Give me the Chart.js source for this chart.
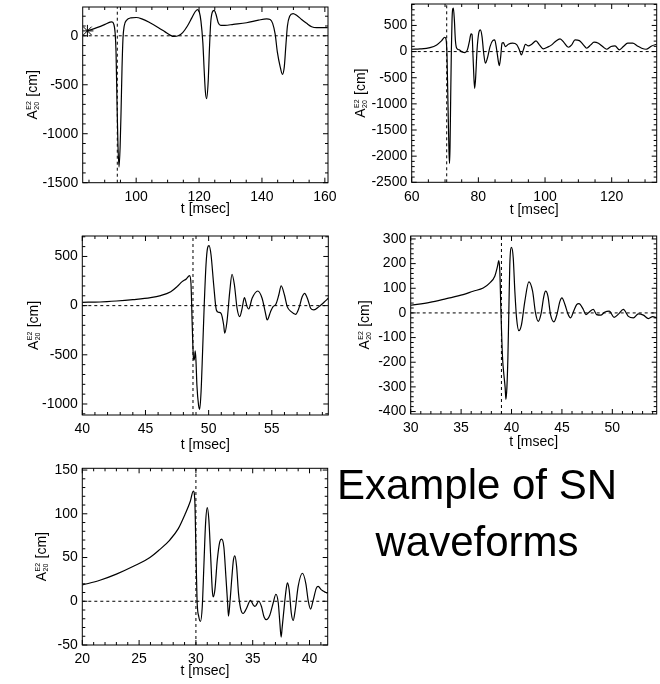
<!DOCTYPE html>
<html>
<head>
<meta charset="utf-8">
<script src="https://cdn.jsdelivr.net/npm/chart.js@4.4.1/dist/chart.umd.min.js"></script>
<style>
  body { margin: 0; background: #fff; }
  #wrap { position: relative; width: 660px; height: 684px; overflow: hidden; }
  canvas { position: absolute; }
  .big { position: absolute; font: 42px "Liberation Sans", Arial, sans-serif; line-height: 42px; color: #000; text-align: center; white-space: nowrap; }
</style>
</head>
<body>
<div id="wrap">
  <canvas id="c1" width="345" height="225" style="left:0;top:0"></canvas>
  <canvas id="c2" width="330" height="225" style="left:330px;top:0"></canvas>
  <canvas id="c3" width="345" height="230" style="left:0;top:225px"></canvas>
  <canvas id="c4" width="330" height="230" style="left:330px;top:225px"></canvas>
  <canvas id="c5" width="345" height="229" style="left:0;top:455px"></canvas>
  <div class="big" style="left:330px;width:294px;top:464px">Example of SN</div>
  <div class="big" style="left:330px;width:294px;top:521px">waveforms</div>
</div>
<script>
// waveform 1 (t in msec, A in cm)
const t1 = [84.5, 87.5, 90.1, 91.7, 92.3, 92.9, 93.3, 93.6, 93.9, 94.2, 94.55, 94.9, 95.2, 95.5, 95.8, 96.2, 97.0, 98.3, 100.0,
  101.8, 104.4, 107.1, 109.2, 110.8, 112.0, 113.4, 114.8, 116.3, 117.7, 118.7, 119.5, 120.1, 120.6, 121.2, 121.6, 122.0,
  122.4, 122.9, 123.3, 123.7, 124.2, 124.8, 125.4, 126.1, 126.9, 128.2, 130.9, 135.1, 138.9, 141.5, 142.6, 143.4, 144.2,
  144.9, 145.8, 146.5, 147.1, 147.6, 148.1, 148.8, 149.9, 151.1, 152.6, 154.2, 155.8, 157.4, 160.9];
const a1 = [50, 83, 117, 140, 143, 117, 33, -167, -667, -1100, -1340, -1133, -767, -333, -33, 100, 160, 183, 187,
  173, 133, 83, 40, 7, -7, 0, 33, 100, 183, 243, 267, 240, 150, -67, -333, -567,
  -643, -467, -133, 133, 240, 260, 217, 133, 107, 107, 117, 133, 160, 173, 167, 127, 17,
  -167, -317, -393, -317, -100, 100, 200, 227, 207, 167, 127, 93, 83, 83];

// waveform 2
const t2 = [60, 62.5, 65.5, 67.5, 69, 69.9, 70.3, 70.6, 70.9, 71.2, 71.35, 71.5, 71.7, 71.9, 72.1, 72.3, 72.5, 72.8, 73.1,
  73.5, 74.3, 75.1, 76, 76.7, 77.3, 77.8, 78.1, 78.4, 78.7, 78.9, 79.2, 79.6, 80.1, 80.6, 81.1, 81.6, 82.1, 82.7, 83.5,
  84.3, 84.9, 85.5, 86.0, 86.3, 86.7, 87.1, 87.5, 88.1, 89, 90.3, 91.5, 92.3, 92.9, 93.5, 94.1, 95, 96, 97.3, 98.3, 99.5,
  100.7, 102, 103.3, 104.5, 105.7, 107, 108, 109, 110.3, 111.5, 112.5, 113.7, 114.7, 116, 117.3, 118.5, 119.8, 121,
  122.3, 123.5, 124.8, 126.3, 127.7, 129, 130.3, 132, 133.5];
const a2 = [45, 51, 77, 128, 210, 274, 236, -96, -1053, -1946, -2137, -1818, -861, 32, 606, 810, 830, 606, 223,
  64, 32, -6, -19, 32, 191, 338, 325, -96, -542, -702, -479, 32, 351, 415, 287, -32, -223, -128, 96,
  210, 223, 32, -191, -268, -96, 160, 172, 96, 140, 160, 134, 32, -64, 32, 140, 108, 140, 204, 128, 51,
  83, 128, 204, 242, 172, 83, 128, 223, 210, 128, 64, 128, 179, 160, 96, 45, 96, 108,
  32, 96, 160, 160, 108, 64, 45, 108, 140];

// waveform 3
const t3 = [40, 41.4, 42.7, 44.0, 45.4, 46.2, 47.0, 47.5, 47.9, 48.23, 48.49, 48.6, 48.7, 48.8, 48.86, 48.94, 49.0, 49.07,
  49.2, 49.29, 49.4, 49.52, 49.65, 49.79, 49.92, 50.03, 50.19, 50.4, 50.61, 50.79, 50.98, 51.19, 51.27, 51.45, 51.67,
  51.85, 52.04, 52.25, 52.46, 52.65, 52.83, 53.04, 53.17, 53.44, 53.89, 54.23, 54.5, 54.63, 54.9, 55.1, 55.32, 55.55,
  55.74, 56.0, 56.22, 56.53, 56.88, 57.14, 57.41, 57.59, 57.86, 58.07, 58.33, 58.73, 59.13, 59.47];
const a3 = [34, 37, 47, 61, 81, 102, 142, 193, 244, 271, 305, 227, -197, -536, -553, -461, -570, -807,
  -1010, -1054, -875, -468, 7, 414, 590, 610, 515, 210, -44, -68, -78, -197, -281, -163, 142,
  319, 210, -27, -112, -27, 81, -10, -34, 75, 149, 75, -78, -146, -61, -10, 14, 108,
  200, 108, -10, -61, -88, -27, 92, 125, 58, -27, -44, -10, 34, 75];

// waveform 4
const t4 = [30, 31.89, 33.54, 35.2, 36.19, 37.19, 37.85, 38.34, 38.61, 38.74, 38.84, 38.94, 39.11, 39.24, 39.37, 39.44,
  39.54, 39.64, 39.74, 39.83, 40.0, 40.17, 40.33, 40.5, 40.73, 40.99, 41.32, 41.72, 42.09, 42.38, 42.65, 42.91, 43.21,
  43.38, 43.61, 43.87, 44.21, 44.5, 44.8, 45.0, 45.3, 45.6, 45.86, 46.16, 46.46, 46.69, 47.12, 47.38, 47.72, 48.11,
  48.44, 48.84, 49.27, 49.7, 50.17, 50.63, 51.09, 51.59, 52.09, 52.58, 53.08, 53.58, 54.0, 54.4];
const a4 = [31, 43, 58, 74, 88, 101, 122, 149, 189, 212, 169, 20, -182, -250, -304, -351,
  -304, -182, 20, 196, 266, 223, 88, -20, -72, -47, 47, 126, 88, 0, -34, -7, 68,
  88, 68, -7, -36, -7, 47, 61, 34, -4, -20, 7, 34, 38, 14, -7, 4, 14,
  -7, -9, 4, 7, -18, -4, 14, -14, -20, -4, -9, -23, -15, -20];

// waveform 5
const t5 = [20, 21.55, 23.0, 24.5, 25.95, 26.8, 27.7, 28.45, 29.03, 29.5, 29.77, 29.9, 30.0, 30.1, 30.26, 30.4, 30.56,
  30.7, 30.85, 31.0, 31.14, 31.3, 31.44, 31.52, 31.67, 31.88, 32.1, 32.26, 32.46, 32.64, 32.79, 32.87, 32.99, 33.17,
  33.3, 33.43, 33.58, 33.75, 33.93, 34.16, 34.46, 34.8, 35.04, 35.2, 35.54, 35.77, 36.0, 36.2, 36.5, 36.8, 37.04,
  37.25, 37.39, 37.5, 37.6, 37.83, 37.98, 38.06, 38.21, 38.4, 38.56, 38.74, 39.0, 39.38, 39.68, 39.88, 40.09, 40.32,
  40.6, 40.76, 41.05, 41.58];
const a5 = [18.6, 24, 31, 40, 50, 59, 70, 83, 99, 114, 126, 116, 59, 1.5, -18, -23, -6,
  40, 89, 107, 93, 51, 13, 5, 13, 47, 68, 71, 62, 28, -2, -17, -2, 28,
  47, 52, 40, 9, -8, -14, -8, 1, -4, -6, 0, -6, -18, -21, -16, -2, 8,
  -2, -25, -41, -29, 1, 17, 21, 13, -14, -22, -10, 17, 32, 20, 1, -9, 1,
  15, 17, 13, 9];

// bounce times (dashed vertical lines)
const bounce = [94.0, 70.5, 48.76, 39.0, 30.0];
// axis ranges [min, max]
const xRanges = [[83, 161], [60, 133.5], [40, 59.47], [30, 54.4], [20, 41.6]];
const yRanges = [[-1500, 294], [-2500, 910], [-1112, 708], [-410, 312], [-50, 152]];
// labelled tick values
const xTicks = [[100, 120, 140, 160], [60, 80, 100, 120], [40, 45, 50, 55], [30, 35, 40, 45, 50], [20, 25, 30, 35, 40]];
const yTicks = [[-1500, -1000, -500, 0], [-2500, -2000, -1500, -1000, -500, 0, 500], [-1000, -500, 0, 500],
  [-400, -300, -200, -100, 0, 100, 200, 300], [-50, 0, 50, 100, 150]];
// minor tick steps
const xMinor = [5, 5, 1, 1, 1];
const yMinor = [100, 100, 100, 20, 10];
// starting marker on the first waveform
const starT = [84.5];
const starA = [50];

// plot-box placement inside each canvas
const boxes = [
  { id: 'c1', left: 82.7, top: 4, right: 328, bottom: 182.7, xt: 30.5, yt: 46 },
  { id: 'c2', left: 81.7, top: 4, right: 326.7, bottom: 182.3, xt: 32, yt: 47 },
  { id: 'c3', left: 82.3, top: 11, right: 328.3, bottom: 190, xt: 34, yt: 44 },
  { id: 'c4', left: 80.7, top: 11, right: 326.7, bottom: 189, xt: 32, yt: 42 },
  { id: 'c5', left: 82.3, top: 13.3, right: 327.7, bottom: 190, xt: 30, yt: 36 }
];

const FONT = '"Liberation Sans", Arial, Helvetica, sans-serif';

const frame = {
  id: 'frame',
  afterDatasetsDraw(chart, args, opts) {
    const { ctx, chartArea: ca, scales } = chart;
    const xs = scales.x, ys = scales.y;
    ctx.save();
    ctx.strokeStyle = '#000';
    ctx.lineWidth = 1;
    ctx.strokeRect(ca.left, ca.top, ca.right - ca.left, ca.bottom - ca.top);

    const marks = (scale, minor) => {
      const out = [];
      const majors = scale.ticks.map(t => t.value);
      const start = Math.ceil(scale.min / minor - 1e-9) * minor;
      for (let v = start; v <= scale.max + 1e-9; v += minor) {
        const vv = Math.round(v * 1000) / 1000;
        const isMajor = majors.some(m => Math.abs(m - vv) < minor / 100);
        out.push([scale.getPixelForValue(vv), isMajor ? 5 : 3]);
      }
      return out;
    };
    ctx.beginPath();
    for (const [px, len] of marks(xs, opts.xMinor)) {
      ctx.moveTo(px, ca.bottom); ctx.lineTo(px, ca.bottom - len);
      ctx.moveTo(px, ca.top); ctx.lineTo(px, ca.top + len);
    }
    for (const [py, len] of marks(ys, opts.yMinor)) {
      ctx.moveTo(ca.left, py); ctx.lineTo(ca.left + len, py);
      ctx.moveTo(ca.right, py); ctx.lineTo(ca.right - len, py);
    }
    ctx.stroke();

    // axis titles
    ctx.fillStyle = '#000';
    ctx.font = '14px ' + FONT;
    ctx.textAlign = 'center';
    ctx.textBaseline = 'alphabetic';
    ctx.fillText('t [msec]', (ca.left + ca.right) / 2, ca.bottom + opts.xt);

    ctx.translate(ca.left - opts.yt, (ca.top + ca.bottom) / 2);
    ctx.rotate(-Math.PI / 2);
    ctx.textAlign = 'left';
    const big = '14px ' + FONT, small = '7px ' + FONT;
    ctx.font = big;
    const wA = ctx.measureText('A').width;
    const wC = ctx.measureText(' [cm]').width;
    ctx.font = small;
    const wS = Math.max(ctx.measureText('E2').width, ctx.measureText('20').width);
    const x0 = -(wA + wS + wC + 1) / 2;
    ctx.font = big;
    ctx.fillText('A', x0, 0);
    ctx.font = small;
    ctx.fillText('E2', x0 + wA + 0.5, -6);
    ctx.fillText('20', x0 + wA + 0.5, 2);
    ctx.font = big;
    ctx.fillText(' [cm]', x0 + wA + wS + 1, 0);
    ctx.restore();
  }
};

function makeChart(i, t, a) {
  const b = boxes[i];
  const el = document.getElementById(b.id);
  const [xMin, xMax] = xRanges[i];
  const [yMin, yMax] = yRanges[i];
  const dashed = { borderColor: '#000', borderWidth: 1, borderDash: [3, 3], pointRadius: 0, fill: false };
  const datasets = [
    { data: t.map((v, k) => ({ x: v, y: a[k] })), borderColor: '#000', borderWidth: 1.2, pointRadius: 0,
      cubicInterpolationMode: 'monotone', fill: false },
    { ...dashed, data: [{ x: xMin, y: 0 }, { x: xMax, y: 0 }] },
    { ...dashed, data: [{ x: bounce[i], y: yMin }, { x: bounce[i], y: yMax }] }
  ];
  if (i === 0) {
    datasets.push({ data: starT.map((v, k) => ({ x: v, y: starA[k] })), showLine: false, pointStyle: 'star',
      pointRadius: 6, borderColor: '#000', borderWidth: 1, backgroundColor: '#000' });
  }
  const tickFont = { family: FONT, size: 14 };
  new Chart(el, {
    type: 'line',
    data: { datasets },
    options: {
      responsive: false,
      animation: false,
      events: [],
      layout: { padding: { left: 0, top: b.top, right: el.width - b.right, bottom: 0 } },
      plugins: {
        legend: { display: false },
        tooltip: { enabled: false },
        frame: { xMinor: xMinor[i], yMinor: yMinor[i], xt: b.xt, yt: b.yt }
      },
      scales: {
        x: {
          type: 'linear', min: xMin, max: xMax,
          grid: { display: false, drawTicks: false },
          border: { display: false },
          ticks: { autoSkip: false, maxRotation: 0, padding: 6, color: '#000', font: tickFont,
            callback: v => String(v) },
          afterBuildTicks: s => { s.ticks = xTicks[i].map(v => ({ value: v })); },
          afterFit: s => { s.height = el.height - b.bottom; s.paddingLeft = 0; s.paddingRight = 0; }
        },
        y: {
          type: 'linear', min: yMin, max: yMax,
          grid: { display: false, drawTicks: false },
          border: { display: false },
          ticks: { autoSkip: false, padding: 4.5, color: '#000', font: tickFont,
            callback: v => String(v) },
          afterBuildTicks: s => { s.ticks = yTicks[i].map(v => ({ value: v })); },
          afterFit: s => { s.width = b.left; s.paddingTop = 0; s.paddingBottom = 0; }
        }
      }
    },
    plugins: [frame]
  });
}

makeChart(0, t1, a1);
makeChart(1, t2, a2);
makeChart(2, t3, a3);
makeChart(3, t4, a4);
makeChart(4, t5, a5);
</script>
</body>
</html>
